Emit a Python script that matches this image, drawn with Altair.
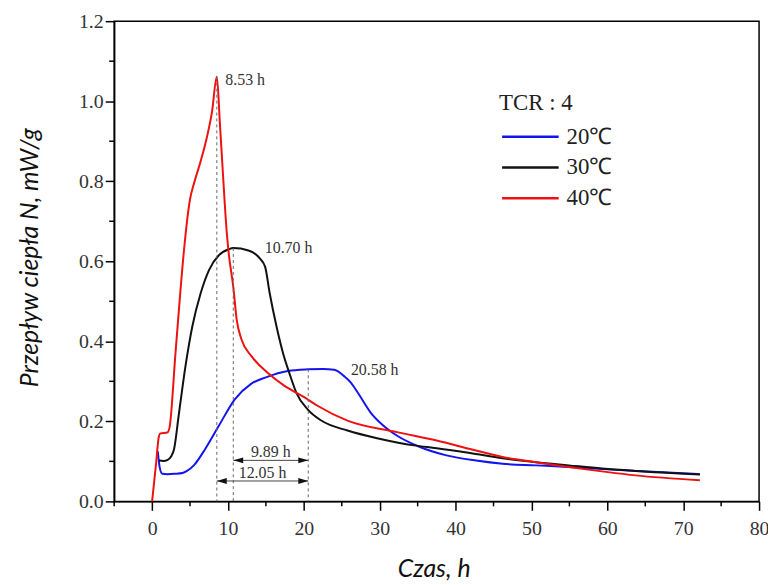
import altair as alt
import pandas as pd

# ---- data ----
series_labels = ["20℃", "30℃", "40℃"]
series_colors = ["#1414f0", "#111111", "#ee1111"]

t20 = [0.75, 1.0, 1.35, 2.0, 3.0, 4.0, 4.6, 5.5, 7.0, 8.8, 10.9, 13.0, 15.0, 17.9, 20.58, 22.5, 24.0, 25.3,
       26.2, 27.1, 28.8, 30.5, 32.3, 35.3, 38.8, 42.7, 46.2, 50.6, 54.9, 60.0, 66.0, 72.2]
n20 = [0.125, 0.085, 0.069, 0.068, 0.069, 0.071, 0.076, 0.09, 0.131, 0.189, 0.255, 0.293, 0.31, 0.326, 0.330,
       0.331, 0.329, 0.313, 0.297, 0.272, 0.222, 0.189, 0.164, 0.136, 0.115, 0.102, 0.094, 0.09, 0.086, 0.08,
       0.074, 0.068]

t30 = [0.9, 1.5, 2.0, 2.5, 2.9, 3.5, 4.4, 5.3, 6.4, 7.5, 8.8, 10.1, 10.7, 12.7, 14.2, 14.9, 15.5, 16.4, 17.25,
       18.1, 19.0, 20.5, 22.3, 25.75, 30.1, 34.5, 37.5, 41.9, 46.2, 50.6, 54.9, 59.3, 63.7, 72.2]
n30 = [0.102, 0.101, 0.103, 0.112, 0.131, 0.214, 0.338, 0.437, 0.52, 0.578, 0.615, 0.630, 0.633, 0.627, 0.607,
       0.586, 0.52, 0.437, 0.371, 0.32, 0.272, 0.23, 0.202, 0.177, 0.156, 0.14, 0.133, 0.121, 0.108, 0.098, 0.09,
       0.082, 0.076, 0.067]

t40 = [0.0, 0.5, 0.9, 1.1, 2.0, 2.3, 3.1, 4.2, 4.6, 5.0, 5.5, 6.4, 7.2, 7.9, 8.53, 8.95, 9.3, 9.85, 10.1, 10.7,
       11.15, 11.8, 13.1, 15.3, 17.5, 20.1, 21.8, 25.75, 32.3, 37.5, 41.9, 46.2, 50.6, 54.9, 59.3, 63.7, 72.2]
n40 = [0.0, 0.09, 0.163, 0.17, 0.172, 0.185, 0.375, 0.627, 0.70, 0.755, 0.793, 0.85, 0.908, 0.974, 1.061, 0.94,
       0.83, 0.67, 0.62, 0.536, 0.454, 0.404, 0.363, 0.32, 0.288, 0.26, 0.239, 0.202, 0.173, 0.152, 0.131, 0.111,
       0.098, 0.086, 0.075, 0.065, 0.053]

# peak markers (time, peak value) and their labels
peak_t = [8.53, 10.70, 20.58]
peak_n = [1.061, 0.633, 0.330]
peak_text = ["8.53 h", "10.70 h", "20.58 h"]
peak_label_t = [9.65, 14.85, 26.2]
peak_label_n = [1.052, 0.632, 0.329]

# time spans between peaks
span_start = [10.70, 8.53]
span_end = [20.58, 20.58]
span_level = [0.1025, 0.051]
span_text = ["9.89 h", "12.05 h"]

x_major = [0, 10, 20, 30, 40, 50, 60, 70, 80]
x_minor = [-5, 5, 15, 25, 35, 45, 55, 65, 75]
y_major = [0.0, 0.2, 0.4, 0.6, 0.8, 1.0, 1.2]
y_minor = [0.1, 0.3, 0.5, 0.7, 0.9, 1.1]

# ---- tables ----
rows = []
for lab, ts, ns in zip(series_labels, [t20, t30, t40], [n20, n30, n40]):
    for t, n in zip(ts, ns):
        rows.append({"t": t, "n": n, "s": lab})
df = pd.DataFrame(rows)

peaks = pd.DataFrame({"t": peak_t, "n": peak_n, "lt": peak_label_t, "ln": peak_label_n, "txt": peak_text})
spans = pd.DataFrame({"t": span_start, "t2": span_end, "n": span_level, "txt": span_text,
                      "mid": [(a + b) / 2 for a, b in zip(span_start, span_end)]})
xminor_df = pd.DataFrame({"t": x_minor})
yminor_df = pd.DataFrame({"n": y_minor})

W, H = 650, 484

x_scale = alt.Scale(domain=[-5, 80], nice=False, zero=False)
y_scale = alt.Scale(domain=[0, 1.2], nice=False, zero=False)

SERIF = "Times New Roman, Liberation Serif, serif"
SANS = "Lato, sans-serif"

x_axis = alt.Axis(
    values=x_major, title="Czas, h", format="d", tickSize=9,
    labelFont=SERIF, labelFontSize=20, labelColor="#333", labelPadding=8,
    labelFlush=False, labelOverlap=False, grid=False,
    domainColor="#000", domainWidth=1.5, tickColor="#000", tickWidth=1.5,
    titleFont=SANS, titleFontStyle="italic", titleFontWeight="normal", titleFontSize=25,
    titleColor="#111", titleX=322, titleY=76, titleBaseline="alphabetic", titleAlign="center",
)
y_axis = alt.Axis(
    values=y_major, title="Przepływ ciepła N, mW/g", format=".1f", tickSize=9,
    labelFont=SERIF, labelFontSize=20, labelColor="#333", labelPadding=2,
    labelOverlap=False, labelFlush=False, grid=False,
    domainColor="#000", domainWidth=1.5, tickColor="#000", tickWidth=1.5,
    titleFont=SANS, titleFontStyle="italic", titleFontWeight="normal", titleFontSize=25,
    titleColor="#111", titleX=-85, titleY=238, titleAngle=270, titleBaseline="middle", titleAlign="center",
)

legend = alt.Legend(
    title="TCR : 4", orient="none", legendX=388, legendY=72, direction="vertical",
    symbolType="M-10,0H10", symbolSize=32.5, symbolStrokeWidth=2.5, symbolOffset=20,
    labelOffset=25, labelFont=SERIF, labelFontSize=23, labelColor="#222",
    titleFont=SERIF, titleFontSize=23, titleFontWeight="normal", titleColor="#222",
    titlePadding=10, rowPadding=7, padding=0,
)

lines = alt.Chart(df).mark_line(strokeWidth=2, interpolate="monotone").encode(
    x=alt.X("t:Q", scale=x_scale, axis=x_axis),
    y=alt.Y("n:Q", scale=y_scale, axis=y_axis),
    color=alt.Color("s:N", scale=alt.Scale(domain=series_labels, range=series_colors), legend=legend),
)

# minor ticks (outside the frame, drawn through the same scales)
x_minor_ticks = alt.Chart(xminor_df).mark_rule(color="#000", strokeWidth=1.5).encode(
    x="t:Q", y=alt.value(H), y2=alt.value(H + 5)
)
y_minor_ticks = alt.Chart(yminor_df).mark_rule(color="#000", strokeWidth=1.5).encode(
    y="n:Q", x=alt.value(-5), x2=alt.value(0)
)

drops = alt.Chart(peaks).mark_rule(color="#666", strokeDash=[3, 3], strokeWidth=1).encode(
    x="t:Q", y="n:Q", y2=alt.datum(0)
)

peak_labels = alt.Chart(peaks).mark_text(
    align="left", baseline="middle", font=SERIF, fontSize=16, color="#333"
).encode(x="lt:Q", y="ln:Q", text="txt:N")

span_rules = alt.Chart(spans).mark_rule(color="#444", strokeWidth=1).encode(
    x="t:Q", x2="t2:Q", y="n:Q"
)
left_heads = alt.Chart(spans).mark_point(
    shape="M0,0L2,-0.6L2,0.6Z", size=100, filled=True, color="#111", opacity=1
).encode(x="t:Q", y="n:Q")
right_heads = alt.Chart(spans).mark_point(
    shape="M0,0L-2,-0.6L-2,0.6Z", size=100, filled=True, color="#111", opacity=1
).encode(x="t2:Q", y="n:Q")
span_labels = alt.Chart(spans).mark_text(
    align="center", baseline="alphabetic", dy=-3, font=SERIF, fontSize=16, color="#333"
).encode(x="mid:Q", y="n:Q", text="txt:N")

chart = alt.layer(
    lines, x_minor_ticks, y_minor_ticks, drops, peak_labels, span_rules, left_heads, right_heads, span_labels
).properties(
    width=W, height=H,
    autosize=alt.AutoSizeParams(type="none"),
    padding={"left": 107, "top": 11, "right": 9, "bottom": 82},
).configure_view(stroke="#000", strokeWidth=1.5)

chart.save("out.html", embed_options={"renderer": "svg", "actions": False})
